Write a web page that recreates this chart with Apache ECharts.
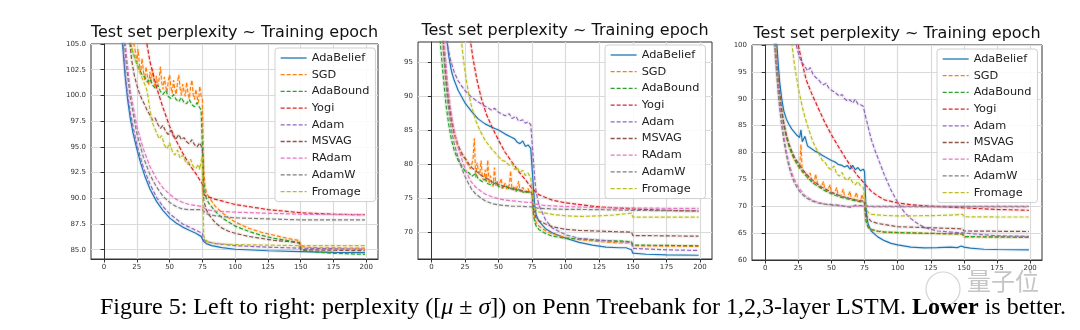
<!DOCTYPE html>
<html><head><meta charset="utf-8">
<script src="https://cdn.jsdelivr.net/npm/echarts@6/dist/echarts.min.js"></script>
<style>html,body{margin:0;padding:0;background:#fff}#c{width:1080px;height:330px}</style>
</head><body><div id="c"></div><script>
// ---------- tick labels ----------
const X_TICKS = [0, 25, 50, 75, 100, 125, 150, 175, 200];
const Y_TICKS_1 = [85.0, 87.5, 90.0, 92.5, 95.0, 97.5, 100.0, 102.5, 105.0];
const Y_TICKS_2 = [70, 75, 80, 85, 90, 95];
const Y_TICKS_3 = [60, 65, 70, 75, 80, 85, 90, 95, 100];
const SERIES_NAMES = ['AdaBelief', 'SGD', 'AdaBound', 'Yogi', 'Adam', 'MSVAG', 'RAdam', 'AdamW', 'Fromage'];
const TITLE = 'Test set perplexity ~ Training epoch';

// ---------- 1-layer LSTM: [epoch, perplexity] ----------
const p1_AdaBelief = [[10,118],[12,110],[14,105.2],[16,102],[18,99.6],[20,97.8],[22,96.4],[25,94.8],[28,93.4],[31,92.2],[35,90.9],[40,89.7],[45,88.8],[50,88.1],[55,87.6],[60,87.2],[65,86.9],[70,86.6],[74,86.3],[75,86.2],[76,85.8],[78,85.6],[82,85.4],[90,85.2],[100,85.05],[125,84.9],[150,84.82],[175,84.75],[199,84.72]];
const p1_SGD = [[17,115],[20,108],[22,105.5],[24,104.2],[25,103.2],[26,104.5],[27,103],[28,102.2],[29,103.6],[30,102.4],[31,101.5],[32,102.8],[33,101.9],[34,101.0],[35,102.3],[36,101.2],[37,102.6],[38,101.4],[39,100.8],[40,101.9],[41,100.9],[42,101.6],[43,102.8],[44,101.2],[45,100.6],[46,101.8],[47,100.9],[48,100.3],[49,101.4],[50,102.0],[51,100.8],[52,100.2],[53,101.5],[54,100.6],[55,100.1],[56,101.2],[57,102.0],[58,100.7],[59,100.0],[60,101.1],[61,100.4],[62,99.9],[63,101.3],[64,100.2],[65,99.7],[66,100.8],[67,101.5],[68,100.1],[69,99.6],[70,100.6],[71,99.8],[72,99.3],[73,100.9],[74,100.0],[75,99.6],[76,92.8],[77,91.2],[78,90.6],[80,90.1],[85,89.2],[90,88.6],[95,88.1],[100,87.7],[110,87.1],[120,86.7],[130,86.4],[140,86.1],[149,85.9],[150,85.3],[160,85.2],[199,85.15]];
const p1_AdaBound = [[16,115],[19,106],[21,104.6],[23,103.8],[25,103.1],[27,102.5],[29,102.0],[31,101.8],[33,101.3],[35,101.6],[37,101.0],[39,100.7],[41,101.0],[43,100.4],[45,100.1],[47,100.5],[49,99.9],[51,99.7],[53,100.1],[55,99.6],[57,99.4],[59,99.8],[61,99.3],[63,99.2],[65,99.6],[67,99.1],[69,98.9],[71,99.3],[73,98.8],[74,98.6],[75,98.7],[76,91.5],[77,90.6],[78,90.0],[80,89.5],[85,88.7],[90,88.1],[95,87.7],[100,87.3],[110,86.8],[120,86.4],[130,86.1],[140,85.9],[149,85.7],[150,85.0],[160,84.8],[175,84.65],[199,84.55]];
const p1_Yogi = [[28,112],[32,105.5],[35,103.3],[40,100.8],[45,98.8],[50,97.0],[55,95.6],[60,94.4],[65,93.3],[70,92.4],[74,91.6],[75,91.4],[76,90.4],[78,90.2],[85,89.9],[100,89.4],[125,88.9],[150,88.6],[175,88.45],[199,88.4]];
const p1_Adam = [[10,120],[13,108],[15,104],[17,101],[20,98.3],[25,95.2],[30,93.0],[35,91.4],[40,90.1],[45,89.2],[50,88.5],[55,88.0],[60,87.5],[65,87.2],[70,86.9],[75,86.6],[76,86.0],[78,85.8],[85,85.6],[100,85.4],[125,85.25],[150,85.15],[151,85.1],[199,85.05]];
const p1_MSVAG = [[16,115],[19,106],[21,103.5],[23,102.0],[25,101.0],[27,100.2],[29,99.6],[31,99.1],[33,98.5],[35,98.1],[37,97.6],[39,97.8],[41,97.2],[43,96.8],[45,97.1],[47,96.5],[49,96.2],[51,96.6],[53,96.0],[55,95.8],[57,96.2],[59,95.7],[61,95.9],[63,95.5],[65,95.3],[67,95.7],[69,95.2],[71,95.0],[73,95.4],[75,94.8],[76,89.8],[78,88.9],[80,88.4],[85,87.6],[90,87.1],[95,86.8],[100,86.6],[110,86.3],[120,86.1],[130,85.9],[140,85.8],[149,85.65],[150,85.0],[175,84.95],[199,84.9]];
const p1_RAdam = [[12,118],[15,107],[17,104],[20,100.5],[25,97],[30,94.8],[35,93.1],[40,91.9],[45,91.0],[50,90.4],[55,89.9],[60,89.6],[65,89.4],[70,89.3],[75,89.2],[78,88.9],[85,88.75],[100,88.65],[125,88.55],[150,88.45],[199,88.4]];
const p1_AdamW = [[12,118],[15,106],[17,103],[20,99.8],[25,96.3],[30,94.0],[35,92.3],[40,91.1],[45,90.2],[50,89.6],[55,89.2],[60,88.95],[65,88.9],[70,88.9],[75,88.9],[78,88.5],[85,88.3],[100,88.1],[125,88.0],[150,87.9],[199,87.9]];
const p1_Fromage = [[17,118],[20,105.5],[22,104.2],[25,103.0],[28,102.0],[30,101.4],[32,100.8],[33,100.3],[35,98.6],[37,97.3],[40,96.4],[42,95.8],[44,96.1],[46,95.2],[48,94.8],[50,95.4],[52,94.6],[54,94.2],[56,94.7],[58,93.9],[60,94.2],[62,93.6],[64,93.3],[66,93.8],[68,93.1],[70,92.9],[72,93.3],[73,92.8],[74,93.6],[75,94.1],[76,86.3],[78,85.9],[80,85.7],[90,85.55],[100,85.5],[150,85.4],[199,85.4]];

// ---------- 2-layer LSTM ----------
const p2_AdaBelief = [[9,110],[11,100],[12,97.5],[13,95.8],[15,93.6],[17,92.3],[20,90.8],[25,89.0],[30,87.7],[35,86.6],[40,85.9],[45,85.4],[50,85.0],[55,84.4],[60,83.9],[62,83.7],[64,83.2],[66,83.0],[68,83.4],[70,82.6],[72,82.8],[74,82.3],[75,82.1],[76,76.5],[77,73.8],[78,72.6],[80,71.6],[85,70.5],[90,69.9],[100,69.1],[110,68.5],[120,68.1],[130,67.8],[140,67.7],[145,67.7],[149,67.4],[150,66.9],[160,66.75],[175,66.65],[199,66.6]];
const p2_SGD = [[6,115],[8,100],[9,97.5],[11,92.5],[13,89.0],[15,86.3],[17,84.4],[19,83.0],[21,82.0],[23,81.2],[25,80.8],[27,80.0],[29,79.3],[31,80.6],[32,83.8],[33,78.0],[34,80.2],[35,79.0],[36,78.4],[37,80.5],[38,78.0],[39,77.6],[40,79.2],[41,77.4],[42,80.6],[43,77.1],[44,78.3],[45,77.0],[46,76.7],[47,79.5],[48,76.8],[49,77.5],[50,76.6],[52,77.9],[53,76.4],[55,77.2],[56,76.3],[58,76.9],[59,79.0],[60,76.2],[62,76.8],[63,76.0],[65,77.5],[66,75.9],[68,76.6],[70,75.8],[72,76.4],[73,75.8],[75,75.9],[76,73.0],[77,72.0],[78,71.4],[80,70.9],[85,70.2],[90,69.7],[100,69.2],[110,68.9],[125,68.6],[140,68.4],[149,68.4],[150,68.0],[175,67.95],[199,67.9]];
const p2_AdaBound = [[5,115],[6,100],[7,97],[9,92.5],[11,88.5],[13,85.7],[15,83.5],[17,82.0],[20,80.5],[23,79.6],[25,79.0],[28,78.7],[30,78.2],[33,78.6],[35,77.8],[38,77.4],[40,77.8],[42,77.1],[45,76.9],[48,77.3],[50,76.7],[53,76.5],[55,76.9],[58,76.3],[60,76.4],[63,76.0],[65,76.3],[68,75.9],[70,75.8],[73,75.9],[75,75.6],[76,72.5],[77,71.5],[78,70.9],[80,70.4],[85,69.8],[90,69.4],[100,69.1],[110,69.0],[125,68.8],[140,68.7],[149,68.6],[150,68.1],[175,68.05],[199,68.0]];
const p2_Yogi = [[24,110],[27,102],[29,98.2],[31,95.5],[34,92.3],[37,89.8],[41,87.3],[45,85.5],[50,83.5],[55,81.7],[60,80.3],[65,78.9],[70,77.7],[75,76.4],[80,75.5],[90,74.7],[100,74.3],[125,73.7],[150,73.4],[175,73.2],[199,73.1]];
const p2_Adam = [[8,115],[11,100],[12,97.5],[14,95.5],[17,93.5],[20,92.2],[25,90.8],[30,89.8],[35,89.1],[40,88.5],[45,87.9],[47,88.2],[50,87.6],[55,87.1],[58,87.4],[60,86.7],[63,87.0],[65,86.3],[68,86.5],[70,86.0],[72,86.2],[74,85.8],[75,85.6],[76,80.5],[77,77.8],[78,75.9],[80,74.0],[85,71.8],[90,70.6],[100,69.6],[110,69.1],[125,68.8],[140,68.6],[149,68.5],[150,67.6],[175,67.4],[199,67.3]];
const p2_MSVAG = [[7,115],[9,97],[11,92.5],[13,89],[15,86.5],[17,84.6],[20,82.7],[23,81.5],[25,80.9],[28,80.0],[30,79.5],[33,79.0],[35,78.7],[38,78.2],[40,78.0],[43,77.7],[45,77.4],[48,77.2],[50,77.0],[53,76.8],[55,76.7],[58,76.5],[60,76.4],[63,76.3],[65,76.2],[68,76.1],[70,76.0],[73,75.9],[75,75.8],[76,73.5],[77,72.6],[78,72.1],[80,71.7],[85,71.2],[90,70.8],[100,70.4],[110,70.25],[125,70.15],[140,70.05],[149,70.0],[150,69.5],[175,69.45],[199,69.4]];
const p2_RAdam = [[8,115],[10,97],[12,92],[14,88.6],[16,86.0],[18,84.0],[20,82.4],[23,80.5],[25,79.4],[28,78.0],[30,77.3],[33,76.6],[37,76.0],[40,75.6],[45,75.2],[50,74.9],[55,74.7],[60,74.6],[65,74.5],[70,74.4],[75,74.35],[78,74.1],[85,73.9],[100,73.75],[125,73.6],[150,73.55],[175,73.5],[199,73.5]];
const p2_AdamW = [[7,115],[9,97],[11,91.5],[13,87.8],[15,85.0],[17,83.0],[20,80.9],[23,79.2],[25,78.2],[28,77.0],[30,76.3],[33,75.6],[37,75.0],[40,74.6],[45,74.2],[50,74.0],[55,73.9],[60,73.8],[65,73.8],[70,73.75],[75,73.7],[80,73.5],[90,73.4],[100,73.35],[125,73.3],[150,73.2],[175,73.15],[199,73.1]];
const p2_Fromage = [[20,110],[22.5,97.9],[24,95.2],[26,92.4],[28,90.1],[30,88.4],[33,86.4],[36,85.0],[40,83.5],[45,82.2],[50,81.1],[53,80.5],[55,80.4],[58,79.8],[60,80.1],[62,79.2],[64,79.5],[66,78.7],[68,79.1],[70,78.3],[72,78.7],[74,77.9],[75,77.7],[76,74.5],[77,73.5],[79,73.0],[85,72.8],[90,72.6],[100,72.4],[110,72.3],[125,72.4],[135,72.5],[145,72.7],[149,72.8],[150,72.2],[175,72.2],[199,72.2]];

// ---------- 3-layer LSTM ----------
const p3_AdaBelief = [[6,115],[8,103],[9,99.5],[10,96],[11,93],[12.5,90],[14,87.8],[16,86.2],[18,85.2],[20,84.4],[22,83.8],[24,83.2],[26,82.8],[27,84.2],[28,82.0],[30,83.0],[32,81.2],[35,80.7],[38,80.2],[40,80.0],[43,79.5],[45,79.2],[48,78.8],[50,78.5],[53,78.2],[55,77.8],[58,77.6],[60,77.3],[62,77.6],[64,76.9],[66,77.6],[68,76.8],[70,77.2],[72,76.6],[74,76.9],[75,76.5],[76,70],[77,67.5],[78,66.5],[80,65.4],[85,64.3],[90,63.6],[95,63.1],[100,62.8],[110,62.4],[120,62.25],[130,62.3],[140,62.4],[145,62.3],[148,62.6],[150,62.4],[155,62.2],[165,62.0],[175,61.95],[199,61.9]];
const p3_SGD = [[5,115],[7,103],[8,99],[10,93],[12,88.5],[14,85.3],[16,83],[18,81.2],[20,79.8],[22,78.7],[24,77.8],[26,77.0],[27,81.5],[28,76.3],[30,76.5],[32,75.1],[34,76.2],[35,74.6],[37,74.2],[38,76.0],[40,73.8],[42,73.4],[44,74.6],[45,73.1],[47,72.8],[49,74.0],[50,72.6],[52,72.3],[54,73.5],[55,72.1],[57,71.9],[59,73.2],[60,71.7],[62,71.5],[64,72.8],[65,71.4],[67,71.2],[69,72.6],[70,71.0],[72,70.9],[73,72.2],[75,70.7],[76,67.5],[77,66.6],[78,66.0],[80,65.6],[85,65.3],[90,65.2],[100,65.1],[125,64.95],[149,64.8],[150,64.3],[175,64.25],[199,64.2]];
const p3_AdaBound = [[5,115],[6.5,104],[8,98],[10,92.5],[12,88.2],[14,85.1],[16,82.9],[18,81.2],[20,79.9],[22,78.8],[25,77.6],[28,76.5],[30,75.9],[33,75.1],[35,74.6],[38,74.0],[40,73.7],[43,73.2],[45,72.9],[48,72.6],[50,72.3],[53,72.0],[55,71.9],[58,71.6],[60,71.5],[63,71.3],[65,71.2],[68,71.0],[70,70.9],[73,70.8],[75,70.7],[76,67.3],[77,66.5],[78,66.0],[80,65.7],[85,65.4],[90,65.2],[100,65.1],[125,64.95],[149,64.85],[150,64.35],[175,64.3],[199,64.25]];
const p3_Yogi = [[22,110],[25,100],[28,96.5],[31,93.5],[35,91],[40,88.3],[45,85.6],[50,83.3],[55,81.2],[60,79.2],[65,77.3],[70,75.6],[75,74.2],[80,72.8],[85,71.9],[90,71.2],[100,70.6],[110,70.3],[125,70.0],[150,69.7],[175,69.4],[199,69.25]];
const p3_Adam = [[20,110],[23,100.5],[25,98.5],[27,97.0],[30,96.0],[32,95.2],[34,95.8],[36,94.6],[38,94.0],[40,93.6],[42,93.0],[44,92.6],[46,92.9],[48,92.0],[50,91.6],[52,91.3],[54,90.9],[56,90.5],[58,90.8],[60,90.0],[62,89.6],[64,89.8],[66,89.2],[68,89.9],[70,89.0],[72,88.9],[74,88.6],[75,88.4],[76,86.5],[78,84.5],[80,82.5],[83,80.3],[86,78.4],[90,75.8],[95,73.0],[100,70.7],[105,68.9],[110,67.7],[115,66.8],[120,66.1],[125,65.7],[130,65.4],[140,65.2],[149,65.05],[150,64.7],[175,64.5],[199,64.4]];
const p3_MSVAG = [[5,115],[7,103],[8,98.5],[10,93],[12,88.8],[14,85.6],[16,83.3],[18,81.6],[20,80.3],[22,79.2],[25,78.0],[28,76.9],[30,76.3],[33,75.5],[35,75.0],[38,74.4],[40,74.0],[43,73.5],[45,73.3],[48,72.9],[50,72.6],[53,72.3],[55,72.1],[58,71.8],[60,71.7],[63,71.5],[65,71.4],[68,71.2],[70,71.1],[73,71.0],[75,70.9],[76,68.5],[77,68.0],[80,67.2],[85,66.8],[90,66.6],[100,66.2],[125,66.0],[149,65.8],[150,65.4],[175,65.35],[199,65.3]];
const p3_RAdam = [[5,115],[7,103],[8,98],[10,91.5],[12,86.8],[14,83.2],[16,80.3],[18,78.0],[20,76.3],[22,75.0],[25,73.6],[28,72.6],[30,72.0],[35,71.2],[40,70.7],[45,70.4],[50,70.2],[55,70.1],[60,70.0],[65,70.0],[70,70.0],[75,70.0],[80,69.9],[100,69.9],[150,69.9],[199,69.9]];
const p3_AdamW = [[4.5,115],[6.5,103],[8,97],[10,90.5],[12,85.8],[14,82.3],[16,79.5],[18,77.3],[20,75.7],[22,74.4],[25,73.1],[28,72.2],[30,71.7],[35,71.0],[40,70.6],[45,70.4],[50,70.3],[55,70.2],[60,70.0],[65,69.8],[68,70.2],[70,70.1],[75,70.1],[80,70.0],[100,70.0],[150,70.0],[199,70.0]];
const p3_Fromage = [[17,115],[20,100.5],[22,96.5],[25,92],[28,88.5],[30,86.6],[33,84.2],[36,82.0],[40,80.0],[43,78.6],[45,78.2],[48,77.1],[50,76.8],[52,77.5],[54,76.0],[56,75.6],[58,76.3],[60,75.2],[62,74.8],[64,75.4],[66,74.4],[68,74.0],[70,74.6],[72,73.8],[74,73.5],[75,73.6],[76,70.0],[77,69.2],[78,68.8],[80,68.5],[90,68.3],[100,68.2],[125,68.25],[140,68.35],[149,68.5],[150,68.05],[175,68.0],[199,68.0]];

const PANEL_DATA = [
  [p1_AdaBelief, p1_SGD, p1_AdaBound, p1_Yogi, p1_Adam, p1_MSVAG, p1_RAdam, p1_AdamW, p1_Fromage],
  [p2_AdaBelief, p2_SGD, p2_AdaBound, p2_Yogi, p2_Adam, p2_MSVAG, p2_RAdam, p2_AdamW, p2_Fromage],
  [p3_AdaBelief, p3_SGD, p3_AdaBound, p3_Yogi, p3_Adam, p3_MSVAG, p3_RAdam, p3_AdamW, p3_Fromage]
];
const Y_TICKS = [Y_TICKS_1, Y_TICKS_2, Y_TICKS_3];

// ---------- styling / layout ----------
const COLORS = ['#1f77b4','#ff7f0e','#2ca02c','#d62728','#9467bd','#8c564b','#e377c2','#7f7f7f','#bcbd22'];
const GRIDS = [
  {left: 91, top: 44, width: 287, height: 215},
  {left: 418, top: 42, width: 294, height: 217},
  {left: 752, top: 45, width: 290, height: 215}
];
const Y_RANGE = [[84.1, 105], [66.05, 97.93], [60, 100]];
const LEGEND_POS = [[275, 48], [605, 45], [937, 49]];
const FONT = 'DejaVu Sans';

const chart = echarts.init(document.getElementById('c'), null, {renderer: 'canvas'});

const grid = GRIDS.map(g => Object.assign({show: true, borderColor: '#333', borderWidth: 1, backgroundColor: '#fff'}, g));

const xAxis = GRIDS.map((g, i) => ({
  type: 'value', gridIndex: i, min: -9.95, max: 208.95,
  axisLine: {show: true, lineStyle: {color: '#333', width: 1}},
  axisTick: {show: true, length: 3.5, lineStyle: {color: '#333'}, customValues: X_TICKS},
  axisLabel: {customValues: X_TICKS, fontFamily: FONT, fontSize: 7, color: '#333', margin: 5, formatter: v => String(v)},
  splitLine: {show: true, lineStyle: {color: '#dadada', width: 1.2}}
}));
const yAxis = GRIDS.map((g, i) => ({
  type: 'value', gridIndex: i, min: Y_RANGE[i][0], max: Y_RANGE[i][1],
  axisLine: {show: true, lineStyle: {color: '#333', width: 1}},
  axisTick: {show: true, length: 3.5, lineStyle: {color: '#333'}, customValues: Y_TICKS[i]},
  axisLabel: {customValues: Y_TICKS[i], fontFamily: FONT, fontSize: 7, color: '#333', margin: 5,
    formatter: v => (i === 0 ? Number(v).toFixed(1) : String(Math.round(v)))},
  splitLine: {show: true, lineStyle: {color: '#dadada', width: 1.2}}
}));

const series = [];
PANEL_DATA.forEach((arrs, gi) => {
  arrs.forEach((d, si) => {
    // faint spread band (mu +- sigma look) drawn from the same data
    series.push({
      type: 'line', name: SERIES_NAMES[si] + '_band', xAxisIndex: gi, yAxisIndex: gi, data: d,
      symbol: 'none', silent: true, z: 1, clip: true,
      lineStyle: {color: COLORS[si], width: 3.5, opacity: 0.1}
    });
  });
  arrs.forEach((d, si) => {
    series.push({
      type: 'line', name: SERIES_NAMES[si], xAxisIndex: gi, yAxisIndex: gi, data: d,
      symbol: 'none', showSymbol: false, z: 3, clip: true,
      color: COLORS[si],
      lineStyle: {color: COLORS[si], width: 1.2, type: si === 0 ? 'solid' : [4, 2]}
    });
  });
});

const legend = LEGEND_POS.map(p => ({
  data: SERIES_NAMES, orient: 'vertical', left: p[0], top: p[1],
  itemWidth: 26, itemHeight: 10, itemGap: 4.7, padding: [4, 6, 4, 5],
  itemStyle: {opacity: 0},
  lineStyle: {width: 1.3},
  textStyle: {fontFamily: FONT, fontSize: 11.3, color: '#222', lineHeight: 12},
  backgroundColor: 'rgba(255,255,255,0.85)', borderColor: '#d0d0d0', borderWidth: 1, borderRadius: 3,
  selectedMode: false
}));

const graphic = [];
GRIDS.forEach(g => {
  graphic.push({type: 'text', x: g.left + g.width / 2, y: g.top - 11,
    style: {text: TITLE, font: '16px "DejaVu Sans"', fill: '#111', align: 'center', verticalAlign: 'middle'}});
});
// watermark (under caption)
graphic.push({type: 'circle', shape: {cx: 943, cy: 289, r: 17}, style: {fill: 'none', stroke: 'rgba(160,160,160,0.45)', lineWidth: 1.2}});
graphic.push({type: 'text', x: 967, y: 281,
  style: {text: '量子位', font: '24px "Noto Sans CJK SC"', fill: 'rgba(150,150,150,0.55)', align: 'left', verticalAlign: 'middle'}});
graphic.push({
  type: 'text', x: 100, y: 308,
  style: {
    text: '{n|Figure 5: Left to right: perplexity ([}{i|μ}{n| ± }{i|σ}{n|]) on Penn Treebank for 1,2,3-layer LSTM. }{b|Lower}{n| is better.}',
    verticalAlign: 'middle', align: 'left',
    rich: {
      n: {fontFamily: 'Liberation Serif', fontSize: 24, fill: '#000'},
      i: {fontFamily: 'Liberation Serif', fontSize: 24, fontStyle: 'italic', fill: '#000'},
      b: {fontFamily: 'Liberation Serif', fontSize: 24, fontWeight: 'bold', fill: '#000'}
    }
  }
});

chart.setOption({animation: false, grid, xAxis, yAxis, series, legend, graphic});
</script></body></html>
